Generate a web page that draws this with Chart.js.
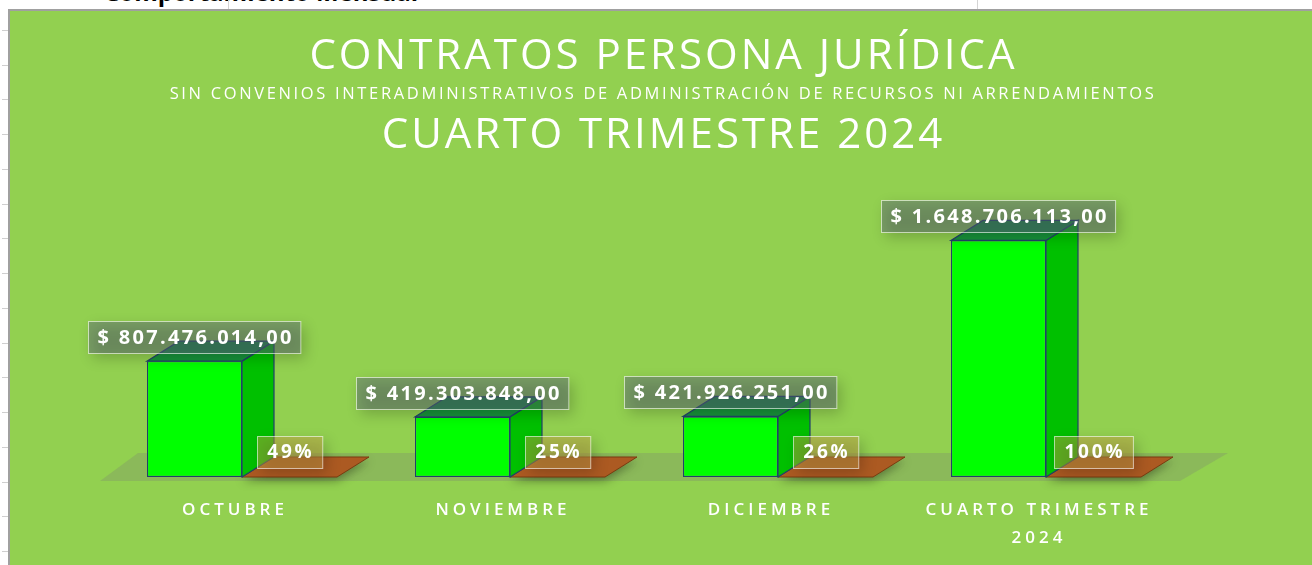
<!DOCTYPE html>
<html>
<head>
<meta charset="utf-8">
<script src="https://cdn.jsdelivr.net/npm/chart.js@4.4.1/dist/chart.umd.min.js"></script>
<style>
  body { margin: 0; background: #fff; width: 1312px; height: 565px; overflow: hidden; position: relative; font-family: 'Open Sans', sans-serif; }
  .hdr { position: absolute; left: 104px; top: -25px; font: bold 24px 'Open Sans', sans-serif; color: #000; white-space: nowrap; }
  .col { position: absolute; top: 0; width: 1px; height: 10px; background: #d4d4d4; }
  .rows { position: absolute; left: 2px; top: 30px; width: 6px; height: 535px;
          background: repeating-linear-gradient(to bottom, #cfcfcf 0, #cfcfcf 1px, transparent 1px, transparent 34.75px); }
  .marco { position: absolute; left: 8px; top: 9px; width: 1304px; height: 556px; background: #92D050;
           border-left: 2px solid #a0a0a0; border-top: 2px solid #a0a0a0; box-sizing: border-box; }
  #grafico { position: absolute; left: 8px; top: 10px; }
</style>
</head>
<body>
<div class="hdr">Comportamiento Mensual</div>
<div class="col" style="left:228px"></div>
<div class="col" style="left:977px"></div>
<div class="rows"></div>
<div class="marco"></div>
<canvas id="grafico" width="1304" height="555"></canvas>

<script>
// ---------------- datos ----------------
const categorias = ['OCTUBRE', 'NOVIEMBRE', 'DICIEMBRE', ['CUARTO TRIMESTRE', '2024']];
const valores = [807476014, 419303848, 421926251, 1648706113];
const porcentajes = [0.49, 0.25, 0.26, 1.00];

const titulo = 'CONTRATOS PERSONA JURÍDICA';
const subtitulo = 'SIN CONVENIOS INTERADMINISTRATIVOS DE ADMINISTRACIÓN DE RECURSOS NI ARRENDAMIENTOS';
const periodo = 'CUARTO TRIMESTRE 2024';

// profundidad del efecto 3D
const DX = 32, DY = -20;

function pesos(v) {
    const entero = Math.round(v).toString().replace(/\B(?=(\d{3})+(?!\d))/g, '.');
    return '$ ' + entero + ',00';
}

function caja(ctx, texto, cx, cy, h, pad, fill, esp) {
    const w = ctx.measureText(texto).width + pad * 2;
    const x = Math.round(cx - w / 2) + 0.5, y = Math.round(cy - h / 2) + 0.5;
    ctx.save();
    ctx.shadowColor = 'rgba(0,0,0,0.45)';
    ctx.shadowBlur = 14;
    ctx.shadowOffsetX = 4;
    ctx.shadowOffsetY = 5;
    ctx.fillStyle = fill;
    ctx.fillRect(x, y, w, h);
    ctx.restore();
    ctx.strokeStyle = 'rgba(255,255,255,0.6)';
    ctx.lineWidth = 1;
    ctx.strokeRect(x, y, w, h);
    ctx.fillStyle = '#fff';
    ctx.textAlign = 'center';
    ctx.textBaseline = 'middle';
    ctx.fillText(texto, cx + esp / 2, cy + 1);
}

const barras3d = {
    id: 'barras3d',
    beforeDraw(chart) {
        const {ctx} = chart;
        // títulos
        ctx.save();
        ctx.fillStyle = '#fff';
        ctx.textAlign = 'center';
        ctx.textBaseline = 'middle';
        const cx = chart.width / 2 + 2;
        ctx.letterSpacing = '3px';
        ctx.font = '42px "Open Sans"';
        ctx.fillText(titulo, cx + 1.5, 47);
        ctx.letterSpacing = '2.65px';
        ctx.font = '16.5px "Open Sans"';
        ctx.fillText(subtitulo, cx + 1, 84);
        ctx.letterSpacing = '3px';
        ctx.font = '42px "Open Sans"';
        ctx.fillText(periodo, cx + 1.5, 126);
        ctx.restore();
        // espaciado de las etiquetas del eje
        ctx.letterSpacing = '4px';
    },
    beforeDatasetsDraw(chart) {
        const {ctx, chartArea, scales} = chart;
        ctx.letterSpacing = '0px';
        const y0 = scales.y.getPixelForValue(0) + 4;
        // piso
        ctx.save();
        ctx.fillStyle = 'rgba(120,120,120,0.26)';
        ctx.beginPath();
        ctx.moveTo(chartArea.left - 8, y0);
        ctx.lineTo(chartArea.right, y0);
        ctx.lineTo(chartArea.right + 48, y0 - 28);
        ctx.lineTo(chartArea.left + 30, y0 - 28);
        ctx.closePath();
        ctx.fill();
        ctx.restore();

        // barras planas de porcentaje
        chart.getDatasetMeta(1).data.forEach(bar => {
            const l = bar.x - bar.width / 2, r = bar.x + bar.width / 2, b = bar.base;
            ctx.save();
            ctx.shadowColor = 'rgba(0,0,0,0.35)';
            ctx.shadowBlur = 10;
            ctx.shadowOffsetY = 4;
            ctx.fillStyle = '#AC5A22';
            ctx.beginPath();
            ctx.moveTo(l, b);
            ctx.lineTo(r, b);
            ctx.lineTo(r + DX, b + DY);
            ctx.lineTo(l + DX, b + DY);
            ctx.closePath();
            ctx.fill();
            ctx.restore();
            ctx.strokeStyle = '#7A3A10';
            ctx.lineWidth = 1;
            ctx.stroke();
        });
    },
    afterDatasetsDraw(chart) {
        const {ctx} = chart;
        const borde = '#22416B';
        chart.getDatasetMeta(0).data.forEach(bar => {
            const l = bar.x - bar.width / 2, r = bar.x + bar.width / 2, t = bar.y, b = bar.base;
            ctx.save();
            ctx.lineWidth = 1.2;
            ctx.strokeStyle = borde;
            // lateral
            ctx.fillStyle = '#00C000';
            ctx.beginPath();
            ctx.moveTo(r, b);
            ctx.lineTo(r + DX, b + DY);
            ctx.lineTo(r + DX, t + DY);
            ctx.lineTo(r, t);
            ctx.closePath();
            ctx.fill();
            ctx.stroke();
            // superior
            ctx.fillStyle = '#17923A';
            ctx.beginPath();
            ctx.moveTo(l, t);
            ctx.lineTo(r, t);
            ctx.lineTo(r + DX, t + DY);
            ctx.lineTo(l + DX, t + DY);
            ctx.closePath();
            ctx.fill();
            ctx.stroke();
            ctx.restore();
        });

        // etiquetas de valor
        ctx.save();
        ctx.font = 'bold 20px "Open Sans"';
        ctx.letterSpacing = '2.3px';
        chart.getDatasetMeta(0).data.forEach((bar, i) => {
            caja(ctx, pesos(valores[i]), bar.x, bar.y - 24, 32, 8, 'rgba(90,100,125,0.45)', 2.3);
        });
        // etiquetas de porcentaje
        ctx.font = 'bold 19px "Open Sans"';
        ctx.letterSpacing = '2.8px';
        chart.getDatasetMeta(1).data.forEach((bar, i) => {
            caja(ctx, Math.round(porcentajes[i] * 100) + '%', bar.x, bar.base - 25, 32, 9, 'rgba(200,160,70,0.45)', 2.8);
        });
        ctx.restore();
    }
};

new Chart(document.getElementById('grafico'), {
    type: 'bar',
    data: {
        labels: categorias,
        datasets: [{
            label: 'Valor',
            data: valores,
            backgroundColor: '#00FF00',
            borderColor: '#22416B',
            borderWidth: 1.2,
            borderSkipped: false
        }, {
            label: 'Porcentaje',
            data: porcentajes,
            backgroundColor: 'rgba(0,0,0,0)',
            borderWidth: 0
        }]
    },
    options: {
        responsive: false,
        animation: false,
        categoryPercentage: 0.709,
        barPercentage: 1,
        layout: { padding: { left: 100, right: 132, top: 180, bottom: 8 } },
        plugins: {
            legend: { display: false },
            tooltip: { enabled: false }
        },
        scales: {
            x: {
                grid: { display: false },
                border: { display: false },
                ticks: {
                    color: '#fff',
                    font: { family: 'Open Sans', size: 17, weight: '600', lineHeight: 1.65 },
                    padding: 11,
                    labelOffset: -7,
                    maxRotation: 0
                },
                afterFit(scale) { scale.height = 80; }
            },
            y: {
                display: false,
                min: 0,
                max: 2000000000
            }
        }
    },
    plugins: [barras3d]
});
</script>
</body>
</html>
